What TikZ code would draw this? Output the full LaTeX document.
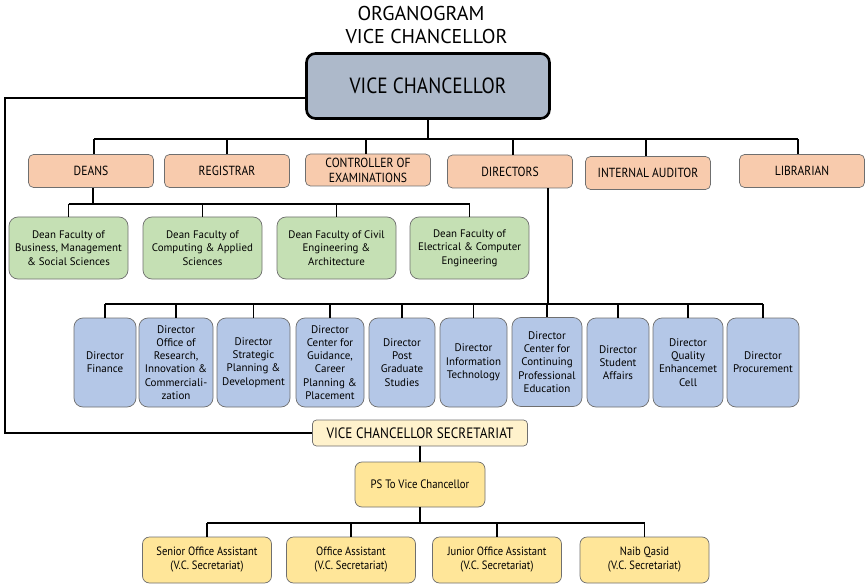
\documentclass[tikz,border=0pt]{standalone}
\usepackage{fontspec}
\setmainfont{PT Sans}
\newfontfamily\condfont[FakeStretch=0.88]{PT Sans}
\definecolor{vcfill}{HTML}{ADB9CA}
\definecolor{salmon}{HTML}{F8CBAD}
\definecolor{deangreen}{HTML}{C5E0B4}
\definecolor{dirblue}{HTML}{B4C7E7}
\definecolor{cream}{HTML}{FFF2CC}
\definecolor{gold}{HTML}{FFE699}
\definecolor{bordergray}{HTML}{6F6F6F}
\begin{document}
\begin{tikzpicture}[x=1pt,y=-1pt,
  conn/.style={line width=1.8pt, black},
  every node/.style={inner sep=1pt, align=center},
  titletext/.style={font=\fontsize{20}{23}\selectfont},
  vcbox/.style={draw=black, line width=2.6pt, fill=vcfill, rounded corners=9pt,
    minimum width=243pt, minimum height=65pt, font=\condfont\fontsize{22}{25}\selectfont},
  topbox/.style={draw=bordergray, line width=0.7pt, fill=salmon, rounded corners=5pt,
    minimum width=125pt, minimum height=33pt, font=\condfont\fontsize{13.2}{15}\selectfont},
  deanbox/.style={draw=bordergray, line width=0.7pt, fill=deangreen, rounded corners=9pt,
    minimum width=119pt, minimum height=62pt, font=\fontsize{10.9}{13.3}\selectfont},
  dirbox/.style={draw=bordergray, line width=0.7pt, fill=dirblue, rounded corners=9pt,
    minimum height=89pt, font=\fontsize{11}{13.3}\selectfont},
  secbox/.style={draw=bordergray, line width=0.7pt, fill=cream, rounded corners=4pt,
    minimum width=215pt, minimum height=26pt, font=\condfont\fontsize{15}{17}\selectfont},
  psbox/.style={draw=bordergray, line width=0.7pt, fill=gold, rounded corners=7pt,
    minimum width=130pt, minimum height=45pt, font=\condfont\fontsize{12.2}{14}\selectfont},
  staffbox/.style={draw=bordergray, line width=0.7pt, fill=gold, rounded corners=7pt,
    minimum width=129pt, minimum height=46pt, font=\condfont\fontsize{12}{14}\selectfont}
]
\fill[white] (0,0) rectangle (866,585);
\useasboundingbox (0,0) rectangle (866,585);

% titles
\node[titletext] (t1) at (421,14) {ORGANOGRAM};
\node[titletext] (t2) at (426.5,37) {VICE CHANCELLOR};

% VC
\node[vcbox] (vc) at (428,86) {VICE CHANCELLOR};

% row 1
\node[topbox] (deans) at (91,171) {DEANS};
\node[topbox] (reg) at (227,171) {REGISTRAR};
\node[topbox, minimum height=32pt] (ctrl) at (368,170) {CONTROLLER OF\\EXAMINATIONS};
\node[topbox] (dirs) at (510,171.5) {DIRECTORS};
\node[topbox] (ia) at (648,173) {INTERNAL AUDITOR};
\node[topbox] (lib) at (802,171) {LIBRARIAN};

% deans
\node[deanbox] (d1) at (68.5,248) {Dean Faculty of\\Business, Management\\\& Social Sciences};
\node[deanbox] (d2) at (202.5,248) {Dean Faculty of\\Computing \& Applied\\Sciences};
\node[deanbox] (d3) at (336.5,248) {Dean Faculty of Civil\\Engineering \&\\Architecture};
\node[deanbox] (d4) at (469.5,248) {Dean Faculty of\\Electrical \& Computer\\Engineering};

% directors
\node[dirbox, minimum width=62pt] (r1) at (105,362.5) {Director\\Finance};
\node[dirbox, minimum width=74pt] (r2) at (176,362.5) {Director\\Office of\\Research,\\Innovation \&\\Commerciali-\\zation};
\node[dirbox, minimum width=73pt] (r3) at (253.5,362.5) {Director\\Strategic\\Planning \&\\Development};
\node[dirbox, minimum width=68pt] (r4) at (330,362.5) {Director\\Center for\\Guidance,\\Career\\Planning \&\\Placement};
\node[dirbox, minimum width=66pt] (r5) at (402,362.5) {Director\\Post\\Graduate\\Studies};
\node[dirbox, minimum width=67pt] (r6) at (473.5,362.5) {Director\\Information\\Technology};
\node[dirbox, minimum width=70pt] (r7) at (547,362) {Director\\Center for\\Continuing\\Professional\\Education};
\node[dirbox, minimum width=62pt] (r8) at (618,362.5) {Director\\Student\\Affairs};
\node[dirbox, minimum width=70pt] (r9) at (688,362.5) {Director\\Quality\\Enhancemet\\Cell};
\node[dirbox, minimum width=72pt] (r10) at (763,362.5) {Director\\Procurement};

% secretariat
\node[secbox] (vcs) at (420,433) {VICE CHANCELLOR SECRETARIAT};
\node[psbox] (ps) at (420,484.5) {PS To Vice Chancellor};
\node[staffbox] (s1) at (207,560) {Senior Office Assistant\\(V.C. Secretariat)};
\node[staffbox] (s2) at (351,560) {Office Assistant\\(V.C. Secretariat)};
\node[staffbox] (s3) at (497,560) {Junior Office Assistant\\(V.C. Secretariat)};
\node[staffbox] (s4) at (644.5,560) {Naib Qasid\\(V.C. Secretariat)};

% bar coordinates
\coordinate (topbar) at (0,139);
\coordinate (deanbar) at (0,204);
\coordinate (dirbar) at (0,304);
\coordinate (staffbar) at (0,523);
\coordinate (lft) at (5,98);

% connectors: VC to row 1
\draw[conn] (vc.south) -- (vc.south |- topbar);
\draw[conn] ([xshift=3pt]deans.north |- topbar) -- ([xshift=-4pt]lib.north |- topbar);
\foreach \n/\s in {deans/3pt,reg/0pt,ctrl/-2pt,dirs/3pt,ia/-2pt,lib/-4pt}
  \draw[conn] ([xshift=\s]\n.north) -- ([xshift=\s]\n.north |- topbar);

% deans
\draw[conn] ([xshift=2pt]deans.south) -- ([xshift=2pt]deans.south |- deanbar);
\draw[conn] (d1.north |- deanbar) -- (d4.north |- deanbar);
\foreach \n in {d1,d2,d3,d4}
  \draw[conn] (\n.north) -- (\n.north |- deanbar);

% directors
\draw[conn] ([xshift=38pt]dirs.south) -- ([xshift=38pt]dirs.south |- dirbar);
\draw[conn] (r1.north |- dirbar) -- (r10.north |- dirbar);
\foreach \n in {r1,r2,r3,r4,r5,r6,r7,r8,r9,r10}
  \draw[conn] (\n.north) -- (\n.north |- dirbar);

% secretariat
\draw[conn] ([yshift=-12pt]vc.west) -- (lft) |- (vcs.west);
\draw[conn] (vcs.south) -- (ps.north);
\draw[conn] (ps.south) -- (ps.south |- staffbar);
\draw[conn] (s1.north |- staffbar) -- (s4.north |- staffbar);
\foreach \n in {s1,s2,s3,s4}
  \draw[conn] (\n.north) -- (\n.north |- staffbar);
\end{tikzpicture}
\end{document}
